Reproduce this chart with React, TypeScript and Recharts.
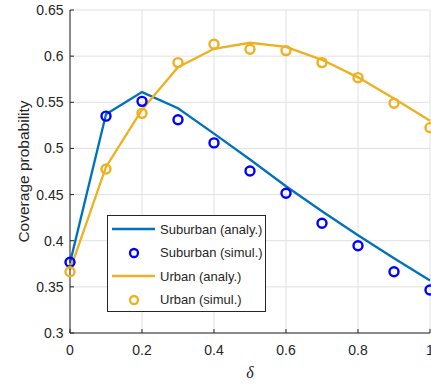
import { ComposedChart, Line, XAxis, YAxis, CartesianGrid } from 'recharts'

const delta = [0, 0.1, 0.2, 0.3, 0.4, 0.5, 0.6, 0.7, 0.8, 0.9, 1]
const suburbanAnaly = [0.376, 0.537, 0.561, 0.5435, 0.516, 0.488, 0.459, 0.432, 0.406, 0.381, 0.357]
const suburbanSimul = [0.3766, 0.535, 0.551, 0.531, 0.506, 0.4755, 0.4514, 0.419, 0.3946, 0.3664, 0.3466]
const urbanAnaly = [0.368, 0.48, 0.542, 0.588, 0.608, 0.6145, 0.61, 0.596, 0.577, 0.554, 0.53]
const urbanSimul = [0.3664, 0.4777, 0.538, 0.593, 0.613, 0.6074, 0.606, 0.593, 0.5767, 0.549, 0.5225]

const xTicks = [0, 0.2, 0.4, 0.6, 0.8, 1]
const yTicks = [0.3, 0.35, 0.4, 0.45, 0.5, 0.55, 0.6, 0.65]

const BLUE_LINE = '#0072BD'
const BLUE_MARK = '#0000FF'
const ORANGE = '#EDB120'
const AXIS = '#262626'
const FONT = '"Liberation Sans", Arial, Helvetica, sans-serif'

const data = delta.map((d, i) => ({
  d,
  subA: suburbanAnaly[i],
  subS: suburbanSimul[i],
  urbA: urbanAnaly[i],
  urbS: urbanSimul[i],
}))

const legendItems = [
  { label: 'Suburban (analy.)', color: BLUE_LINE, kind: 'line' },
  { label: 'Suburban (simul.)', color: BLUE_MARK, kind: 'mark' },
  { label: 'Urban (analy.)', color: ORANGE, kind: 'line' },
  { label: 'Urban (simul.)', color: ORANGE, kind: 'mark' },
]

function YTitle(props: any) {
  const vb = props.viewBox || {}
  const x = vb.x + 25
  const y = vb.y + vb.height / 2
  return (
    <text x={x} y={y} transform={`rotate(-90 ${x} ${y})`} textAnchor="middle" dominantBaseline="middle"
      fontSize={15.5} fontFamily={FONT} fill={AXIS}>
      Coverage probability
    </text>
  )
}

function XTitle(props: any) {
  const vb = props.viewBox || {}
  return (
    <text x={vb.x + vb.width / 2} y={vb.y + 45} textAnchor="middle" fontSize={16}
      fontFamily='"Liberation Serif", "DejaVu Serif", serif' fontStyle="italic" fill={AXIS}>
      δ
    </text>
  )
}

function LegendBox() {
  return (
    <div style={{
      position: 'absolute', left: 107, top: 215, width: 159, height: 97, border: `1px solid ${AXIS}`,
      background: '#fff', fontFamily: FONT, fontSize: 13, color: AXIS, boxSizing: 'border-box',
    }}>
      {legendItems.map((it, i) => (
        <div key={i} style={{ position: 'absolute', left: 4, top: 3 + i * 23.5, height: 20, display: 'flex', alignItems: 'center' }}>
          <svg width={44} height={20} style={{ display: 'block' }}>
            {it.kind === 'line'
              ? <line x1={0} x2={43} y1={10} y2={10} stroke={it.color} strokeWidth={2.3} />
              : <circle cx={22} cy={10} r={4} fill="none" stroke={it.color} strokeWidth={2.3} />}
          </svg>
          <span style={{ marginLeft: 4, whiteSpace: 'nowrap' }}>{it.label}</span>
        </div>
      ))}
    </div>
  )
}

export default function App() {
  const tickStyle = { fontSize: 14, fontFamily: FONT, fill: AXIS }
  return (
    <div style={{ position: 'absolute', left: 0, top: 0, width: 431, height: 386, background: '#fff' }}>
      <ComposedChart width={431} height={386} data={data} margin={{ top: 10, right: 1, left: 0, bottom: 0 }}>
        <CartesianGrid stroke="#e0e0e0" strokeWidth={1} vertical horizontal />
        <XAxis dataKey="d" type="number" domain={[0, 1]} ticks={xTicks} interval={0} height={53}
          tickSize={-4} tickMargin={16} tick={tickStyle} stroke={AXIS}
          tickFormatter={(v: number) => String(v)} label={<XTitle />} />
        <XAxis xAxisId="top" orientation="top" dataKey="d" type="number" domain={[0, 1]} ticks={xTicks}
          interval={0} height={0} tickSize={-4} tick={false} stroke={AXIS} />
        <YAxis type="number" domain={[0.3, 0.65]} ticks={yTicks} interval={0} width={70}
          tickSize={-4} tickMargin={10.5} tick={tickStyle} stroke={AXIS}
          tickFormatter={(v: number) => String(v)} label={<YTitle />} />
        <YAxis yAxisId="right" orientation="right" type="number" domain={[0.3, 0.65]} ticks={yTicks}
          interval={0} width={0} tickSize={-4} tick={false} stroke={AXIS} />
        <Line dataKey="subA" type="linear" stroke={BLUE_LINE} strokeWidth={2.3} dot={false} isAnimationActive={false} />
        <Line dataKey="subS" type="linear" stroke="none" strokeWidth={0}
          dot={{ r: 4.5, stroke: BLUE_MARK, strokeWidth: 2.4, fill: 'none' }} isAnimationActive={false} />
        <Line dataKey="urbA" type="linear" stroke={ORANGE} strokeWidth={2.3} dot={false} isAnimationActive={false} />
        <Line dataKey="urbS" type="linear" stroke="none" strokeWidth={0}
          dot={{ r: 4.5, stroke: ORANGE, strokeWidth: 2.4, fill: 'none' }} isAnimationActive={false} />
      </ComposedChart>
      <LegendBox />
    </div>
  )
}
